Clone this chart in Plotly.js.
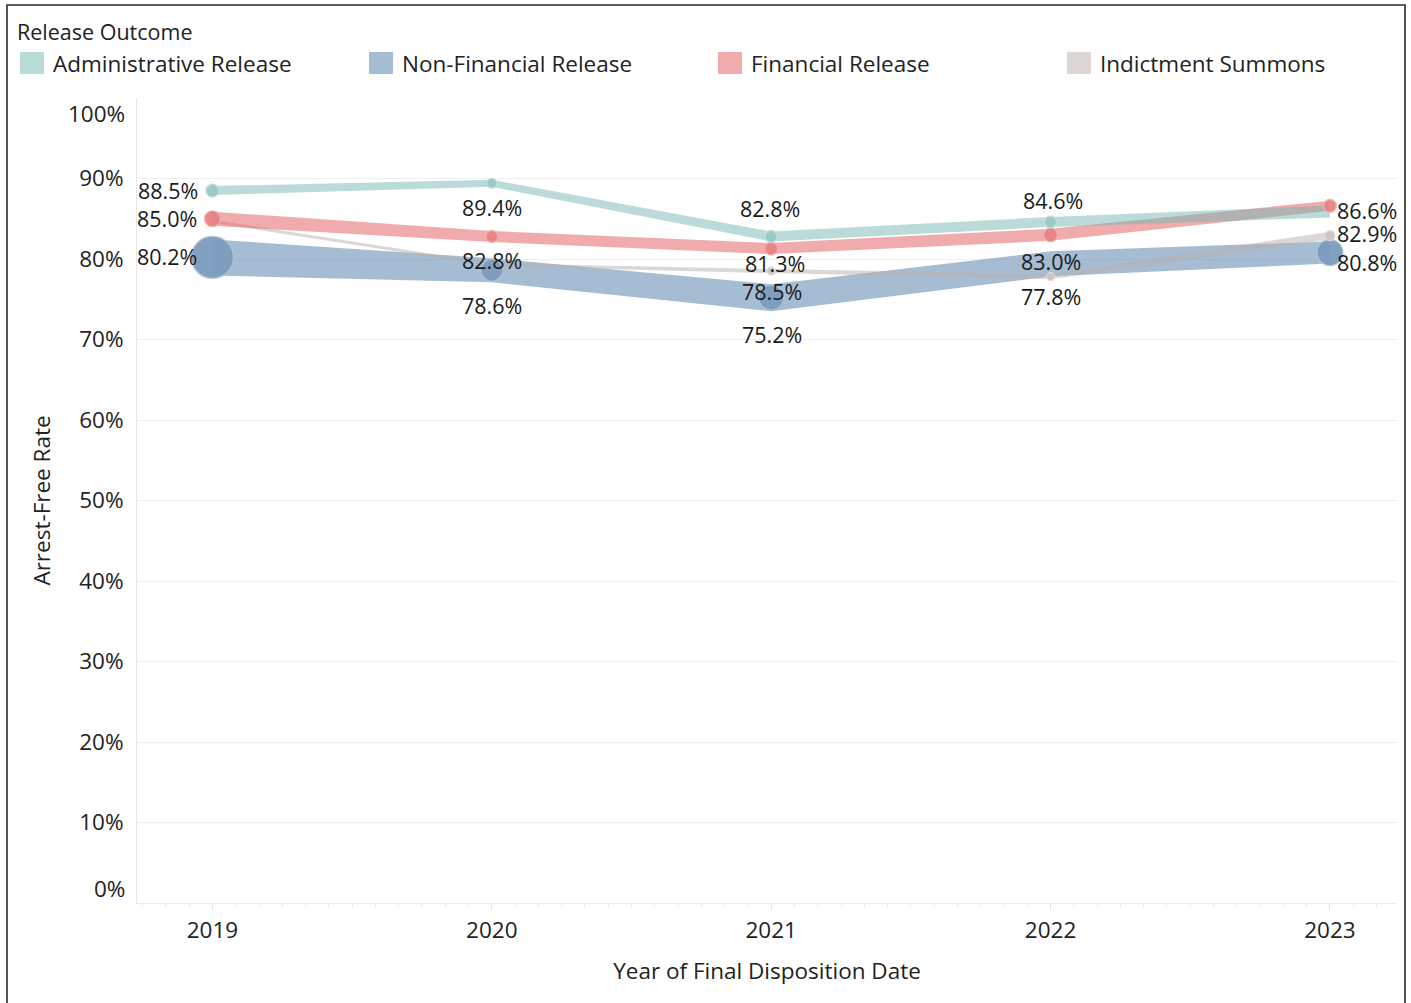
<!DOCTYPE html>
<html>
<head>
<meta charset="utf-8">
<script src="https://cdn.plot.ly/plotly-3.0.1.min.js"></script>
<style>
  html, body { margin: 0; padding: 0; background: #ffffff; }
  #chart { width: 1411px; height: 1003px; }
</style>
</head>
<body>
<div id="chart"></div>
<script>
// ---------------- data ----------------
const years = [2019, 2020, 2021, 2022, 2023];
const yearLabels = ['2019', '2020', '2021', '2022', '2023'];
const seriesNames = ['Administrative Release', 'Non-Financial Release', 'Financial Release', 'Indictment Summons'];
const adminRate        = [88.5, 89.4, 82.8, 84.6, 85.9];
const nonFinancialRate = [80.2, 78.6, 75.2, 79.4, 80.8];
const financialRate    = [85.0, 82.8, 81.3, 83.0, 86.6];
const indictmentRate   = [84.7, 79.3, 78.5, 77.8, 82.9];
const yTickValues = [0, 10, 20, 30, 40, 50, 60, 70, 80, 90, 100];

// ---------------- styles ----------------
const FONT = 'Open Sans, sans-serif';
const W = 1411, H = 1003;
const M = { l: 137, r: 14, t: 98, b: 100 };
const plotW = W - M.l - M.r, plotH = H - M.t - M.b;
const yRange = [0, 100];
const xRange = [2018.73, 2023.24];
const pxPerUnitY = plotH / (yRange[1] - yRange[0]);

// tableau10: teal, blue, red, gray
const baseColors = [[118, 183, 178], [78, 121, 167], [225, 87, 89], [186, 176, 172]];
const rgba = (c, a) => 'rgba(' + c.join(',') + ',' + a + ')';
const solid = (c, a) => 'rgb(' + c.map(v => Math.round(v * a + 255 * (1 - a))).join(',') + ')';

// line width (px) at each point, marker diameter (px) at labelled points
const lineWidths = [
  [9, 7, 10, 10, 12],
  [36, 24, 27, 25, 22],
  [14, 11, 11, 12, 10],
  [3, 3, 4, 5, 8]
];
const markerSizes = [
  [13, 10, 12, 12, 0],
  [42, 22, 25, 0, 26],
  [16, 12, 13, 14, 13],
  [0, 0, 8, 8, 10]
];
// label placement: [dx px, dy px (down positive), anchor] or null for no label
const labelPlacement = [
  [[-12, 0, 'right'], [0, 24, 'center'], [-1, -28, 'center'], [2, -21, 'center'], null],
  [[-13, -1, 'right'], [0, 35, 'center'], [1, 37, 'center'], null, [5, 10, 'left']],
  [[-13, 0, 'right'], [0, 24, 'center'], [4, 15, 'center'], [0, 27, 'center'], [5, 5, 'left']],
  [null, null, [1, 20, 'center'], [0, 20, 'center'], [5, -2, 'left']]
];

const allRates = [adminRate, nonFinancialRate, financialRate, indictmentRate];

// ---------------- traces ----------------
const traces = [];
const drawOrder = [1, 3, 2, 0];
drawOrder.forEach(function (s) {
  const vals = allRates[s];
  const up = vals.map((v, i) => v + lineWidths[s][i] / 2 / pxPerUnitY);
  const lo = vals.map((v, i) => v - lineWidths[s][i] / 2 / pxPerUnitY);
  traces.push({
    type: 'scatter', mode: 'lines',
    x: years.concat(years.slice().reverse()),
    y: up.concat(lo.slice().reverse()),
    fill: 'toself', fillcolor: rgba(baseColors[s], 0.5),
    line: { width: 0, color: 'rgba(0,0,0,0)' },
    hoverinfo: 'skip', showlegend: false, name: seriesNames[s]
  });
});
drawOrder.forEach(function (s) {
  traces.push({
    type: 'scatter', mode: 'markers',
    x: years, y: allRates[s],
    marker: { size: markerSizes[s], color: solid(baseColors[s], 0.74), opacity: 0.95,
      line: { width: 1.2, color: solid(baseColors[s], 0.45) } },
    hoverinfo: 'skip', showlegend: false, name: seriesNames[s]
  });
});

// ---------------- annotations ----------------
const annotations = [];
allRates.forEach(function (vals, s) {
  vals.forEach(function (v, i) {
    const p = labelPlacement[s][i];
    if (!p) return;
    annotations.push({
      x: years[i], y: v, xref: 'x', yref: 'y',
      text: v.toFixed(1) + '%', showarrow: false,
      xanchor: p[2], yanchor: 'middle',
      xshift: p[0], yshift: -p[1],
      font: { family: FONT, size: 21.5, color: '#1a1a1a' }
    });
  });
});
// end tick labels (Tableau pulls them inside the axis)
annotations.push({ x: 0, xref: 'paper', y: 100, yref: 'y', text: '100%', showarrow: false,
  xanchor: 'right', yanchor: 'middle', xshift: -10, yshift: -15,
  font: { family: FONT, size: 22.5, color: '#222' } });
annotations.push({ x: 0, xref: 'paper', y: 0, yref: 'y', text: '0%', showarrow: false,
  xanchor: 'right', yanchor: 'middle', xshift: -10, yshift: 15,
  font: { family: FONT, size: 22.5, color: '#222' } });

// legend
const px2x = px => (px - M.l) / plotW;
const px2y = py => (H - M.b - py) / plotH;
annotations.push({ x: px2x(15), y: px2y(32), xref: 'paper', yref: 'paper', text: 'Release Outcome',
  showarrow: false, xanchor: 'left', yanchor: 'middle', font: { family: FONT, size: 21.5, color: '#222' } });
const shapes = [];
const legendX = [20, 369, 718, 1067];
seriesNames.forEach(function (name, s) {
  shapes.push({ type: 'rect', xref: 'paper', yref: 'paper',
    x0: px2x(legendX[s]), x1: px2x(legendX[s] + 24), y0: px2y(52), y1: px2y(74),
    fillcolor: rgba(baseColors[s], 0.5), line: { width: 0 } });
  annotations.push({ x: px2x(legendX[s] + 31), y: px2y(63), xref: 'paper', yref: 'paper', text: name,
    showarrow: false, xanchor: 'left', yanchor: 'middle', font: { family: FONT, size: 22.5, color: '#222' } });
});
// outer border
shapes.push({ type: 'rect', xref: 'paper', yref: 'paper',
  x0: px2x(7), x1: px2x(1405), y0: px2y(1020), y1: px2y(5),
  line: { color: '#2b2b2b', width: 1.6 }, fillcolor: 'rgba(0,0,0,0)' });

const layout = {
  width: W, height: H,
  margin: M,
  paper_bgcolor: '#ffffff', plot_bgcolor: '#ffffff',
  showlegend: false,
  font: { family: FONT, color: '#222' },
  xaxis: {
    range: xRange, tickvals: years, ticktext: yearLabels,
    showgrid: false, zeroline: false,
    showline: true, linecolor: '#ececec', linewidth: 1,
    ticks: 'outside', ticklen: 6, tickcolor: '#e6e6e6',
    minor: { dtick: 1 / 12, ticks: 'outside', ticklen: 4, tickcolor: '#ededed', showgrid: false },
    ticklabelstandoff: 1,
    tickfont: { family: FONT, size: 22.5, color: '#222' },
    title: { text: 'Year of Final Disposition Date', standoff: 19,
      font: { family: FONT, size: 22.5, color: '#222' } },
    fixedrange: true
  },
  yaxis: {
    range: yRange, tickvals: yTickValues,
    ticktext: yTickValues.map(v => (v === 0 || v === 100) ? '' : v + '%'),
    showgrid: true, gridcolor: '#efefef', gridwidth: 1,
    zeroline: false, showline: true, linecolor: '#e6e6e6', linewidth: 1,
    ticks: '', ticklabelstandoff: 8,
    tickfont: { family: FONT, size: 22.5, color: '#222' },
    title: { text: 'Arrest-Free Rate', standoff: 22,
      font: { family: FONT, size: 22.5, color: '#222' } },
    fixedrange: true
  },
  annotations: annotations,
  shapes: shapes
};

Plotly.newPlot('chart', traces, layout, { displayModeBar: false, staticPlot: true });
</script>
</body>
</html>
